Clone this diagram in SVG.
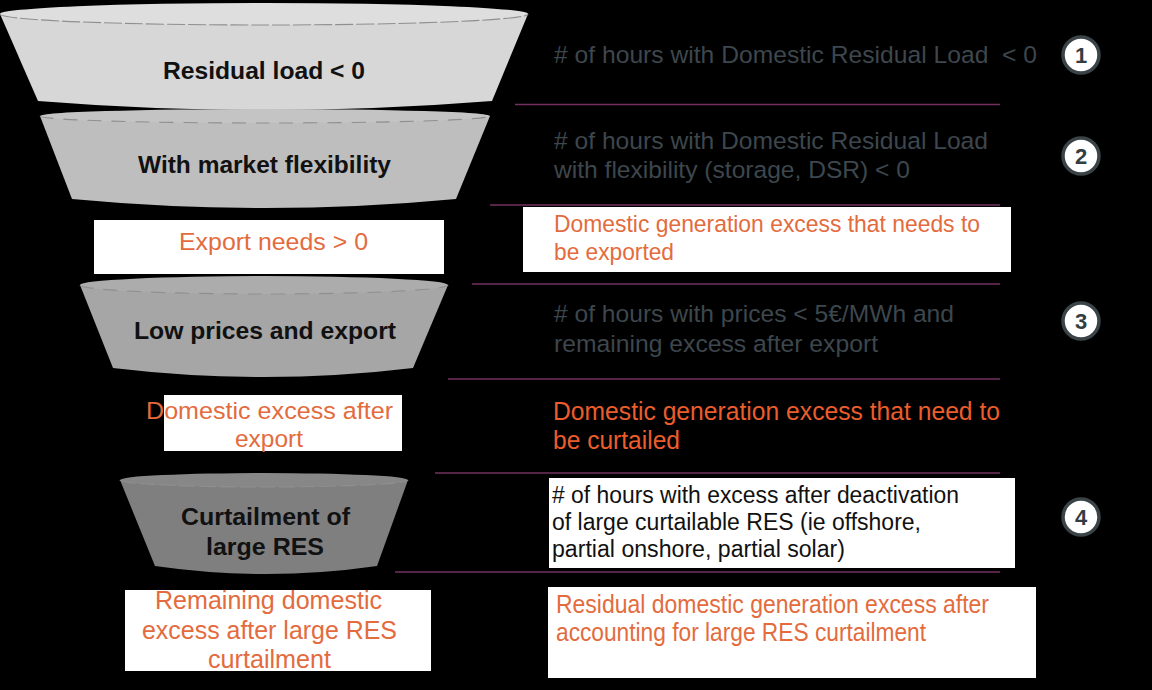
<svg xmlns="http://www.w3.org/2000/svg" width="1152" height="690" viewBox="0 0 1152 690">
<style>
  text { font-family: "Liberation Sans", Arial, sans-serif; font-size: 24.5px; white-space: pre; }
  .narrow { font-size: 26px; }
  .narrow2 { font-size: 23.5px; }
  .ft { font-weight: bold; fill: #111111; }
  .gray { fill: #3d474d; }
  .or { fill: #e36b3d; }
  .or2 { fill: #ec5d2c; }
  .blk { fill: #111111; }
  .num { font-weight: bold; font-size: 22px; fill: #333d42; text-anchor: middle; }
  .sep { stroke: #73305f; stroke-width: 1.5; fill: none; }
  .dash { fill: none; stroke: #8f8f8f; stroke-width: 1.1; }
  .box { fill: #ffffff; }
  .badge { fill: #ffffff; stroke: #3a4347; stroke-width: 3.5; }
</style>
<rect x="0" y="0" width="1152" height="690" fill="#000000"/>

<g id="funnel1">
  <path d="M0,14 L38,101 Q264,119 492,101 L528,14 Z" fill="#d7d7d7"/>
  <ellipse cx="264" cy="14" rx="264" ry="11" fill="#dedede"/>
  <path class="dash" d="M0,14 A264,11 0 0 0 528,14" stroke-dasharray="18 3"/>
  <text class="ft" x="163" y="79" textLength="202" lengthAdjust="spacingAndGlyphs">Residual load &lt; 0</text>
</g>

<g id="funnel2">
  <path d="M40,116 L72,199 Q265,217 456,199 L490,116 Z" fill="#bebebe"/>
  <ellipse cx="265" cy="116" rx="225" ry="7" fill="#c4c4c4"/>
  <path class="dash" d="M40,116 A225,7 0 0 0 490,116" stroke-dasharray="14 10"/>
  <text class="ft" x="138" y="173" textLength="253" lengthAdjust="spacingAndGlyphs">With market flexibility</text>
</g>

<g id="export-needs">
  <rect class="box" x="94" y="220" width="350" height="54"/>
  <text class="or" x="179" y="250" textLength="189" lengthAdjust="spacingAndGlyphs">Export needs &gt; 0</text>
</g>

<g id="funnel3">
  <path d="M80,285 L113,368 Q264,386 413,368 L448,285 Z" fill="#a6a6a6"/>
  <ellipse cx="264" cy="285" rx="184" ry="9" fill="#acacac"/>
  <path class="dash" d="M80,285 A184,9 0 0 0 448,285" stroke-dasharray="14 10"/>
  <text class="ft" x="134" y="339" textLength="262" lengthAdjust="spacingAndGlyphs">Low prices and export</text>
</g>

<g id="excess-after-export">
  <rect class="box" x="164" y="395" width="238" height="56"/>
  <text class="or" x="146" y="419" textLength="247" lengthAdjust="spacingAndGlyphs">Domestic excess after</text>
  <text class="or" x="235" y="447" textLength="68" lengthAdjust="spacingAndGlyphs">export</text>
</g>

<g id="funnel4">
  <path d="M120,480 L155,566 Q266,582 377,566 L408,480 Z" fill="#7f7f7f"/>
  <ellipse cx="264" cy="480" rx="144" ry="7" fill="#878787"/>
  <path class="dash" d="M120,480 A144,7 0 0 0 408,480" stroke="#777777" stroke-dasharray="16 4"/>
  <text class="ft" x="181" y="525" textLength="169" lengthAdjust="spacingAndGlyphs">Curtailment of</text>
  <text class="ft" x="206" y="555" textLength="118" lengthAdjust="spacingAndGlyphs">large RES</text>
</g>

<g id="remaining-excess">
  <rect class="box" x="125" y="590" width="306" height="81"/>
  <text class="or narrow" x="155" y="609" textLength="227" lengthAdjust="spacingAndGlyphs">Remaining domestic</text>
  <text class="or narrow" x="142" y="639" textLength="255" lengthAdjust="spacingAndGlyphs">excess after large RES</text>
  <text class="or narrow" x="208" y="668" textLength="123" lengthAdjust="spacingAndGlyphs">curtailment</text>
</g>

<g id="connectors">
  <line class="sep" x1="515" y1="104.5" x2="1000" y2="104.5"/>
  <line class="sep" x1="490" y1="205" x2="1000" y2="205"/>
  <line class="sep" x1="472" y1="284" x2="1000" y2="284"/>
  <line class="sep" x1="448" y1="379" x2="1000" y2="379"/>
  <line class="sep" x1="435" y1="473" x2="1000" y2="473"/>
  <line class="sep" x1="395" y1="572" x2="1000" y2="572"/>
</g>

<g id="desc1">
  <text class="gray" x="554" y="63" textLength="483" lengthAdjust="spacingAndGlyphs"># of hours with Domestic Residual Load  &lt; 0</text>
</g>
<g id="desc2">
  <text class="gray" x="554" y="149" textLength="434" lengthAdjust="spacingAndGlyphs"># of hours with Domestic Residual Load</text>
  <text class="gray" x="554" y="178" textLength="356" lengthAdjust="spacingAndGlyphs">with flexibility (storage, DSR) &lt; 0</text>
</g>
<g id="desc-export">
  <rect class="box" x="523" y="207" width="488" height="65"/>
  <text class="or" x="554" y="232" textLength="426" lengthAdjust="spacingAndGlyphs">Domestic generation excess that needs to</text>
  <text class="or" x="554" y="260" textLength="120" lengthAdjust="spacingAndGlyphs">be exported</text>
</g>
<g id="desc3">
  <text class="gray" x="554" y="322" textLength="400" lengthAdjust="spacingAndGlyphs"># of hours with prices &lt; 5€/MWh and</text>
  <text class="gray" x="554" y="352" textLength="324" lengthAdjust="spacingAndGlyphs">remaining excess after export</text>
</g>
<g id="desc-curtail">
  <text class="or2 narrow" x="553" y="420" textLength="447" lengthAdjust="spacingAndGlyphs">Domestic generation excess that need to</text>
  <text class="or2 narrow" x="553" y="449" textLength="127" lengthAdjust="spacingAndGlyphs">be curtailed</text>
</g>
<g id="desc4">
  <rect class="box" x="549" y="478" width="466" height="90"/>
  <text class="blk narrow2" x="552" y="503" textLength="407" lengthAdjust="spacingAndGlyphs"># of hours with excess after deactivation</text>
  <text class="blk narrow2" x="552" y="530" textLength="369" lengthAdjust="spacingAndGlyphs">of large curtailable RES (ie offshore,</text>
  <text class="blk narrow2" x="552" y="557" textLength="293" lengthAdjust="spacingAndGlyphs">partial onshore, partial solar)</text>
</g>
<g id="desc-residual">
  <rect class="box" x="548" y="587" width="488" height="91"/>
  <text class="or narrow" x="556" y="613" textLength="433" lengthAdjust="spacingAndGlyphs">Residual domestic generation excess after</text>
  <text class="or narrow" x="556" y="641" textLength="370" lengthAdjust="spacingAndGlyphs">accounting for large RES curtailment</text>
</g>

<g id="badge1">
  <circle class="badge" cx="1081" cy="55" r="18"/>
  <text class="num" x="1081" y="63">1</text>
</g>
<g id="badge2">
  <circle class="badge" cx="1081" cy="156" r="18"/>
  <text class="num" x="1081" y="164">2</text>
</g>
<g id="badge3">
  <circle class="badge" cx="1081" cy="321" r="18"/>
  <text class="num" x="1081" y="329">3</text>
</g>
<g id="badge4">
  <circle class="badge" cx="1081" cy="517" r="18"/>
  <text class="num" x="1081" y="525">4</text>
</g>
</svg>
